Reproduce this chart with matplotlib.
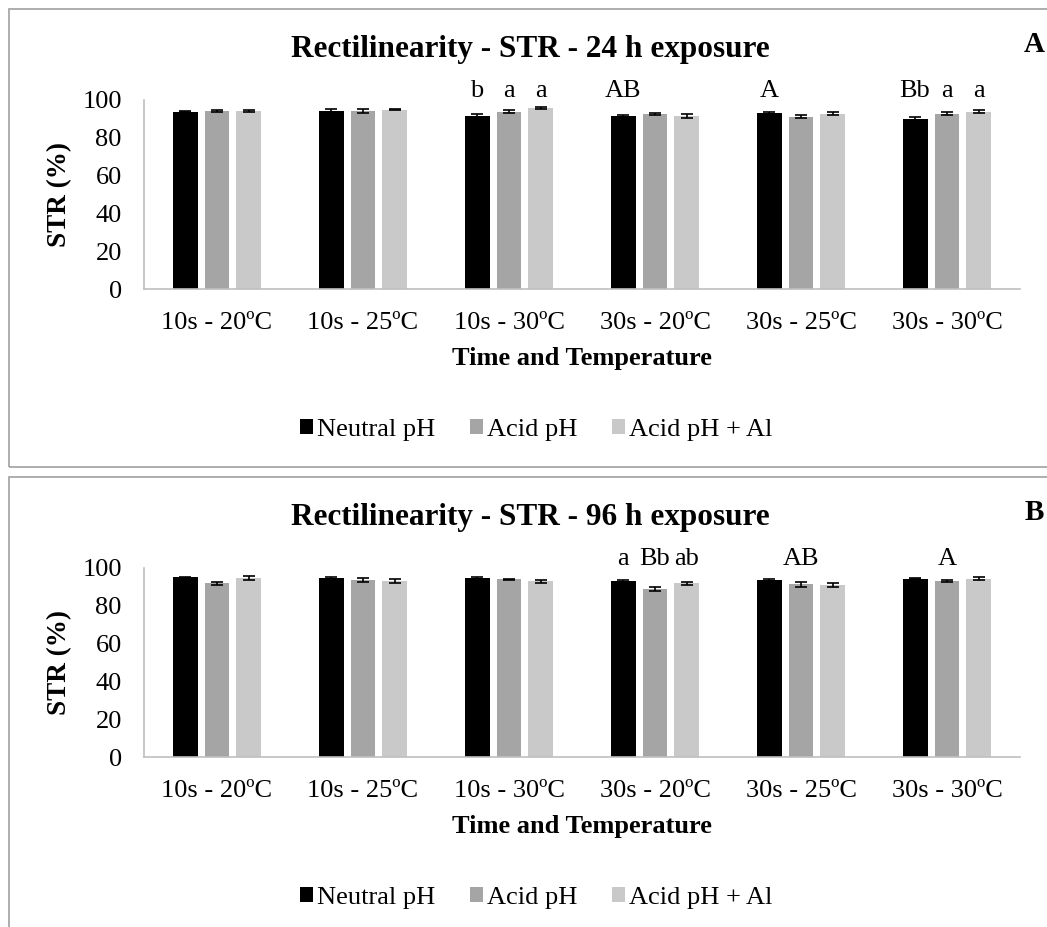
import numpy as np
import matplotlib
matplotlib.use("Agg")
import matplotlib.pyplot as plt
from matplotlib.patches import Rectangle, Patch

# ---------------------------------------------------------------
# data
# ---------------------------------------------------------------
conditions = ["10s - 20ºC", "10s - 25ºC", "10s - 30ºC",
              "30s - 20ºC", "30s - 25ºC", "30s - 30ºC"]
series = ["Neutral pH", "Acid pH", "Acid pH + Al"]

str_24h_neutral = [93.7, 94.0, 91.6, 91.6, 93.0, 89.8]
str_24h_acid = [94.4, 94.2, 93.7, 92.6, 91.2, 92.6]
str_24h_al = [94.4, 94.9, 95.8, 91.6, 92.8, 93.9]
err_24h_neutral = [0.3, 1.0, 1.0, 0.5, 0.8, 1.3]
err_24h_acid = [0.5, 1.0, 0.8, 0.3, 0.8, 0.8]
err_24h_al = [0.5, 0.3, 0.5, 1.2, 0.6, 0.6]

str_96h_neutral = [95.0, 94.8, 94.8, 93.0, 93.7, 94.4]
str_96h_acid = [92.0, 93.6, 94.1, 88.8, 91.4, 93.0]
str_96h_al = [94.8, 93.2, 92.9, 91.8, 91.1, 94.4]
err_96h_neutral = [0.5, 0.5, 0.6, 0.8, 0.5, 0.4]
err_96h_acid = [0.8, 0.9, 0.2, 0.9, 1.3, 0.6]
err_96h_al = [0.9, 1.2, 0.6, 0.8, 1.0, 0.8]

# significance letters: (condition index, series index, text)
letters_24h = [(2, 0, "b"), (2, 1, "a"), (2, 2, "a"), (3, 0, "AB"),
               (4, 0, "A"), (5, 0, "Bb"), (5, 1, "a"), (5, 2, "a")]
letters_96h = [(3, 0, "a"), (3, 1, "Bb"), (3, 2, "ab"),
               (4, 1, "AB"), (5, 1, "A")]

colors = ["#000000", "#A5A5A5", "#C9C9C9"]
AXIS_GREY = "#BFBFBF"
FS = 19

W, H = 1047, 927
plt.rcParams["font.family"] = ["Liberation Serif", "DejaVu Serif"]

fig = plt.figure(figsize=(W / 100, H / 100), dpi=100)


def fx(px):
    return px / W


def fy(py):
    return 1 - py / H


def draw_panel(top, title, tag, values, errors, letters):
    # outer frame of the panel
    fig.patches.append(Rectangle((fx(9), fy(top + 458)), 1.2, 458 / H,
                                 transform=fig.transFigure, fill=False,
                                 edgecolor="#A0A0A0", linewidth=1.2))

    y100, y0 = top + 91, top + 280
    ax = fig.add_axes([fx(144), fy(y0), fx(1020) - fx(144), (y0 - y100) / H])
    x = np.arange(len(conditions))
    step, width = 0.219, 0.171
    for k in range(len(series)):
        ax.bar(x + (k - 1) * step, values[k], width, color=colors[k],
               yerr=errors[k], capsize=4.5,
               error_kw=dict(elinewidth=1.2, capthick=1.2, ecolor="black"))

    for ci, si, txt in letters:
        ax.text(ci + (si - 1) * step, 101.5, txt, ha="center", va="baseline",
                fontsize=FS, clip_on=False)

    ax.set_xlim(-0.5, len(conditions) - 0.5)
    ax.set_ylim(0, 100)
    ax.set_yticks([0, 20, 40, 60, 80, 100])
    ax.set_xticks(x)
    ax.set_xticklabels(conditions)
    ax.tick_params(axis="both", length=0, labelsize=FS)
    ax.tick_params(axis="x", pad=16.5)
    ax.tick_params(axis="y", pad=16)
    for s in ["top", "right"]:
        ax.spines[s].set_visible(False)
    for s in ["left", "bottom"]:
        ax.spines[s].set_color(AXIS_GREY)
        ax.spines[s].set_linewidth(1.2)

    fig.text(fx(530), fy(top + 41), title, ha="center", va="center",
             fontsize=22.5, fontweight="bold")
    fig.text(fx(1034), fy(top + 36), tag, ha="center", va="center",
             fontsize=21, fontweight="bold")
    fig.text(fx(60), fy((y0 + y100) / 2), "STR (%)", ha="center",
             va="center", rotation=90, fontsize=19.5, fontweight="bold")
    fig.text(fx(582), fy(top + 349), "Time and Temperature", ha="center",
             va="center", fontsize=FS, fontweight="bold")

    handles = [Patch(facecolor=c, edgecolor="none") for c in colors]
    fig.legend(handles, series, loc="center",
               bbox_to_anchor=(fx(536), fy(top + 421)), ncol=3,
               frameon=False, fontsize=FS, handlelength=0.5,
               handleheight=0.5, handletextpad=0.15, columnspacing=1.3)


draw_panel(9, "Rectilinearity - STR - 24 h exposure", "A",
           [str_24h_neutral, str_24h_acid, str_24h_al],
           [err_24h_neutral, err_24h_acid, err_24h_al], letters_24h)
draw_panel(477, "Rectilinearity - STR - 96 h exposure", "B",
           [str_96h_neutral, str_96h_acid, str_96h_al],
           [err_96h_neutral, err_96h_acid, err_96h_al], letters_96h)

fig.savefig("out.png", dpi=100)
